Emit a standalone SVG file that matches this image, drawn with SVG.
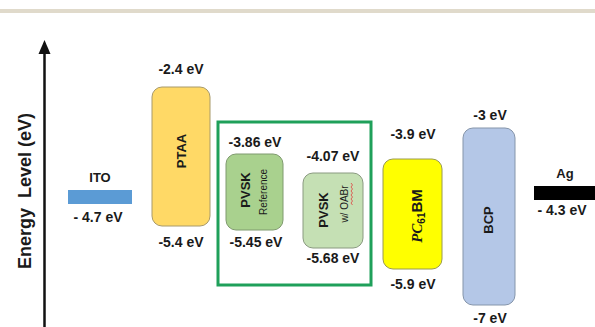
<svg xmlns="http://www.w3.org/2000/svg" width="595" height="327" viewBox="0 0 595 327">
<defs>
<style>
.lbl{font-family:"Liberation Sans",Arial,sans-serif;font-weight:bold;font-size:14px;fill:#1a1a1a;text-anchor:middle}
.nm{font-family:"Liberation Sans",Arial,sans-serif;font-weight:bold;font-size:13px;fill:#1a1a1a;text-anchor:middle}
.sm{font-family:"Liberation Sans",Arial,sans-serif;font-size:10px;fill:#1a1a1a;text-anchor:middle}
.box{stroke-width:1}
</style>
<marker id="ah" markerWidth="10" markerHeight="10" refX="5" refY="1" orient="auto" markerUnits="userSpaceOnUse"/>
</defs>
<rect x="0" y="0" width="595" height="327" fill="#ffffff"/>
<rect x="0" y="9" width="595" height="4" fill="#e0dacb"/>
<g id="axis">
<line x1="44.5" y1="52" x2="44.5" y2="327" stroke="#111" stroke-width="2.5"/>
<polygon points="44.5,40 50.5,54 38.5,54" fill="#111"/>
<text transform="translate(31,191) rotate(-90)" font-family="'Liberation Sans',Arial,sans-serif" font-weight="bold" font-size="18" fill="#1a1a1a" text-anchor="middle" xml:space="preserve">Energy  Level (eV)</text>
</g>
<g id="ITO">
<rect x="68" y="190" width="64" height="14" fill="#5b9bd5"/>
<text class="nm" x="100" y="182">ITO</text>
<text class="lbl" x="98" y="222">- 4.7 eV</text>
</g>
<g id="PTAA">
<rect class="box" x="152" y="87" width="58" height="139" rx="10" fill="#ffd966" stroke="#a89a6a"/>
<text class="lbl" x="181" y="74">-2.4 eV</text>
<text class="nm" transform="translate(186,151) rotate(-90)">PTAA</text>
<text class="lbl" x="181" y="247">-5.4 eV</text>
</g>
<g id="group-box">
<rect x="218" y="122" width="153" height="163" fill="none" stroke="#1fa05a" stroke-width="3"/>
</g>
<g id="PVSK-ref">
<rect class="box" x="226" y="154" width="57" height="76" rx="10" fill="#a9d18e" stroke="#7f9a6e"/>
<text class="lbl" x="255" y="147">-3.86 eV</text>
<text class="nm" transform="translate(250,190) rotate(-90)">PVSK</text>
<text class="sm" transform="translate(267,192) rotate(-90)">Reference</text>
<text class="lbl" x="256" y="247">-5.45 eV</text>
</g>
<g id="PVSK-oabr">
<rect class="box" x="303" y="173" width="60" height="75" rx="10" fill="#c5e0b4" stroke="#8a9a80"/>
<text class="lbl" x="333" y="161">-4.07 eV</text>
<text class="nm" transform="translate(328,210) rotate(-90)">PVSK</text>
<text class="sm" font-size="11" transform="translate(348,204) rotate(-90)">w/ OABr</text>
<path d="M351,183 l1.5,2 l-1.5,2 l1.5,2 l-1.5,2 l1.5,2 l-1.5,2 l1.5,2 l-1.5,2 l1.5,2 l-1.5,2 l1.5,2" fill="none" stroke="#e04040" stroke-width="0.8"/>
<text class="lbl" x="333" y="263">-5.68 eV</text>
</g>
<g id="PC61BM">
<rect class="box" x="383" y="159" width="59" height="110" rx="10" fill="#ffff00" stroke="#9a9a50"/>
<text class="lbl" x="413" y="139">-3.9 eV</text>
<text transform="translate(422,216) rotate(-90)" text-anchor="middle" font-family="'Liberation Sans',Arial,sans-serif" font-weight="bold" font-size="15" fill="#1a1a1a"><tspan font-family="'Liberation Serif','DejaVu Serif',serif" font-style="italic">PC</tspan><tspan font-size="10" dy="3">61</tspan><tspan dy="-3">BM</tspan></text>
<text class="lbl" x="413" y="289">-5.9 eV</text>
</g>
<g id="BCP">
<rect class="box" x="463" y="128" width="52" height="177" rx="10" fill="#b4c7e7" stroke="#8595aa"/>
<text class="lbl" x="490" y="120">-3 eV</text>
<text class="nm" transform="translate(493,220) rotate(-90)">BCP</text>
<text class="lbl" x="490" y="323">-7 eV</text>
</g>
<g id="Ag">
<rect x="534" y="186" width="61" height="14" fill="#000"/>
<text class="nm" x="565" y="178">Ag</text>
<text class="lbl" x="562" y="215">- 4.3 eV</text>
</g>
<g id="connectors"></g>
</svg>
